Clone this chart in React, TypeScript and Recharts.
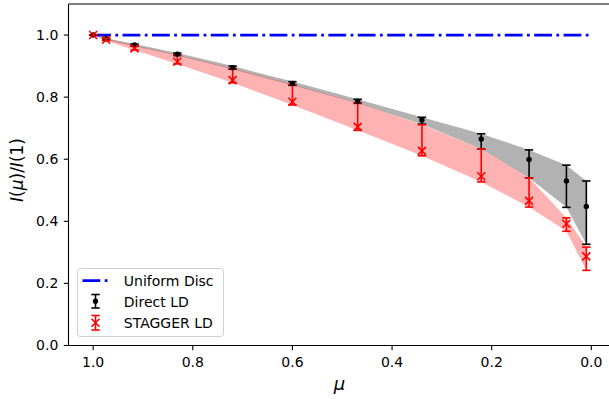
import React from 'react';
import { ComposedChart, Area, Line, Scatter, ErrorBar, XAxis, YAxis, ReferenceLine, Legend, Label } from 'recharts';

const mu = [1.0, 0.974, 0.917, 0.831, 0.72, 0.6, 0.469, 0.34, 0.221, 0.125, 0.05, 0.01];

const direct = [1.0, 0.988, 0.968, 0.938, 0.895, 0.844, 0.787, 0.726, 0.665, 0.599, 0.53, 0.448];
const directLo = [1.0, 0.985, 0.964, 0.934, 0.89, 0.838, 0.78, 0.713, 0.633, 0.54, 0.445, 0.326];
const directHi = [1.0, 0.99, 0.971, 0.942, 0.9, 0.85, 0.793, 0.735, 0.682, 0.63, 0.581, 0.53];

const stagger = [1.0, 0.985, 0.957, 0.914, 0.855, 0.785, 0.704, 0.627, 0.545, 0.466, 0.392, 0.287];
const staggerLo = [1.0, 0.982, 0.952, 0.907, 0.846, 0.775, 0.693, 0.611, 0.527, 0.446, 0.368, 0.242];
const staggerHi = [1.0, 0.988, 0.966, 0.936, 0.892, 0.841, 0.782, 0.711, 0.633, 0.54, 0.411, 0.317];

const uniformMu = [1.0, 0.0];
const uniformI = [1.0, 1.0];

const xTicks = [1.0, 0.8, 0.6, 0.4, 0.2, 0.0];
const yTicks = [0.0, 0.2, 0.4, 0.6, 0.8, 1.0];

const rows = mu.map((m, i) => ({
  mu: m,
  direct: direct[i],
  directErr: [direct[i] - directLo[i], directHi[i] - direct[i]],
  directBand: [directLo[i], directHi[i]],
  stagger: stagger[i],
  staggerErr: [stagger[i] - staggerLo[i], staggerHi[i] - stagger[i]],
  staggerBand: [staggerLo[i], staggerHi[i]],
}));

const uniformRows = uniformMu.map((m, i) => ({ mu: m, uniform: uniformI[i] }));

const FONT = '"DejaVu Sans", sans-serif';

const Dot = (props: any) => {
  const { cx, cy } = props;
  return <circle cx={cx} cy={cy} r={2.7} fill="#000" />;
};

const Cross = (props: any) => {
  const { cx, cy } = props;
  const s = 4;
  return (
    <path
      d={`M${cx - s},${cy - s}L${cx + s},${cy + s}M${cx - s},${cy + s}L${cx + s},${cy - s}`}
      stroke="#ff0000"
      strokeWidth={1.6}
      fill="none"
    />
  );
};

const LegendBox = () => (
  <svg width={147} height={69} style={{ display: 'block', fontFamily: FONT }}>
    <rect x={0.5} y={0.5} width={146} height={68} rx={3} fill="#fff" fillOpacity={0.8} stroke="#d0d0d0" />
    <line x1={5.5} y1={12.7} x2={33.5} y2={12.7} stroke="#0000ff" strokeWidth={2.8} strokeDasharray="17.8 4.4 2.8 4.4" />
    <text x={46.8} y={12.7} fontSize={14} dominantBaseline="central" fill="#000">Uniform Disc</text>

    <line x1={18.5} y1={26.5} x2={18.5} y2={40} stroke="#000" strokeWidth={1.6} />
    <line x1={14.3} y1={26.5} x2={22.7} y2={26.5} stroke="#000" strokeWidth={1.6} />
    <line x1={14.3} y1={40} x2={22.7} y2={40} stroke="#000" strokeWidth={1.6} />
    <circle cx={18.5} cy={33.3} r={2.7} fill="#000" />
    <text x={46.8} y={33.7} fontSize={14} dominantBaseline="central" fill="#000">Direct LD</text>

    <line x1={18.5} y1={47.5} x2={18.5} y2={62} stroke="#ff0000" strokeWidth={1.6} />
    <line x1={14.3} y1={47.5} x2={22.7} y2={47.5} stroke="#ff0000" strokeWidth={1.6} />
    <line x1={14.3} y1={62} x2={22.7} y2={62} stroke="#ff0000" strokeWidth={1.6} />
    <path d="M14.5,50.8L22.5,58.8M14.5,58.8L22.5,50.8" stroke="#ff0000" strokeWidth={1.6} />
    <text x={46.8} y={54.5} fontSize={14} dominantBaseline="central" fill="#000">STAGGER LD</text>
  </svg>
);

const XTitle = () => (
  <text x={339.5} y={389.5} textAnchor="middle" fontSize={18} fontStyle="italic" fontFamily={FONT} fill="#000">
    μ
  </text>
);

const YTitle = () => (
  <text
    x={16.5}
    y={170}
    transform="rotate(-90 16.5 170)"
    textAnchor="middle"
    dominantBaseline="central"
    fontSize={17}
    fontFamily={FONT}
    fill="#000"
  >
    <tspan fontStyle="italic">I</tspan>(<tspan fontStyle="italic">μ</tspan>)/<tspan fontStyle="italic">I</tspan>(1)
  </text>
);

export default function App() {
  return (
    <div style={{ position: 'absolute', left: 0, top: 0, width: 609, height: 399, overflow: 'hidden', background: '#fff', fontFamily: FONT }}>
      <ComposedChart width={611} height={399} data={rows} margin={{ top: 4, right: 0, bottom: 0, left: 0 }}>
        <XAxis
          dataKey="mu"
          type="number"
          reversed
          domain={[-0.0395, 1.0495]}
          allowDataOverflow
          ticks={xTicks}
          tickFormatter={(v: number) => v.toFixed(1)}
          height={53.5}
          tickSize={4.7}
          tickMargin={6.4}
          stroke="#000"
          strokeWidth={1.1}
          tick={{ fill: '#000', fontSize: 14, fontFamily: FONT }}
        >
          <Label content={<XTitle />} />
        </XAxis>
        <YAxis
          type="number"
          domain={[0, 1.1]}
          allowDataOverflow
          ticks={yTicks}
          tickFormatter={(v: number) => v.toFixed(1)}
          width={68.5}
          tickSize={4.7}
          tickMargin={5.5}
          stroke="#000"
          strokeWidth={1.1}
          tick={{ fill: '#000', fontSize: 14, fontFamily: FONT }}
        >
          <Label content={<YTitle />} />
        </YAxis>
        <ReferenceLine y={1.1} stroke="#000" strokeWidth={1.1} />
        <ReferenceLine x={-0.0395} stroke="#000" strokeWidth={1.1} />

        <Area
          dataKey="directBand"
          type="linear"
          fill="#000"
          fillOpacity={0.3}
          stroke="none"
          dot={false}
          activeDot={false}
          isAnimationActive={false}
        />
        <Area
          dataKey="staggerBand"
          type="linear"
          fill="#ff0000"
          fillOpacity={0.3}
          stroke="none"
          dot={false}
          activeDot={false}
          isAnimationActive={false}
        />
        <Line
          data={uniformRows}
          dataKey="uniform"
          type="linear"
          stroke="#0000ff"
          strokeWidth={2.8}
          strokeDasharray="17.8 4.4 2.8 4.4"
          dot={false}
          activeDot={false}
          isAnimationActive={false}
        />
        <Scatter dataKey="direct" shape={<Dot />} isAnimationActive={false}>
          <ErrorBar dataKey="directErr" direction="y" width={4.2} stroke="#000" strokeWidth={1.6} />
        </Scatter>
        <Scatter dataKey="stagger" shape={<Cross />} isAnimationActive={false}>
          <ErrorBar dataKey="staggerErr" direction="y" width={4.2} stroke="#ff0000" strokeWidth={1.6} />
        </Scatter>
        <Legend
          layout="vertical"
          align="center"
          verticalAlign="middle"
          content={<LegendBox />}
          wrapperStyle={{ left: 76.5, top: 268, width: 147, height: 69 }}
        />
      </ComposedChart>
    </div>
  );
}
